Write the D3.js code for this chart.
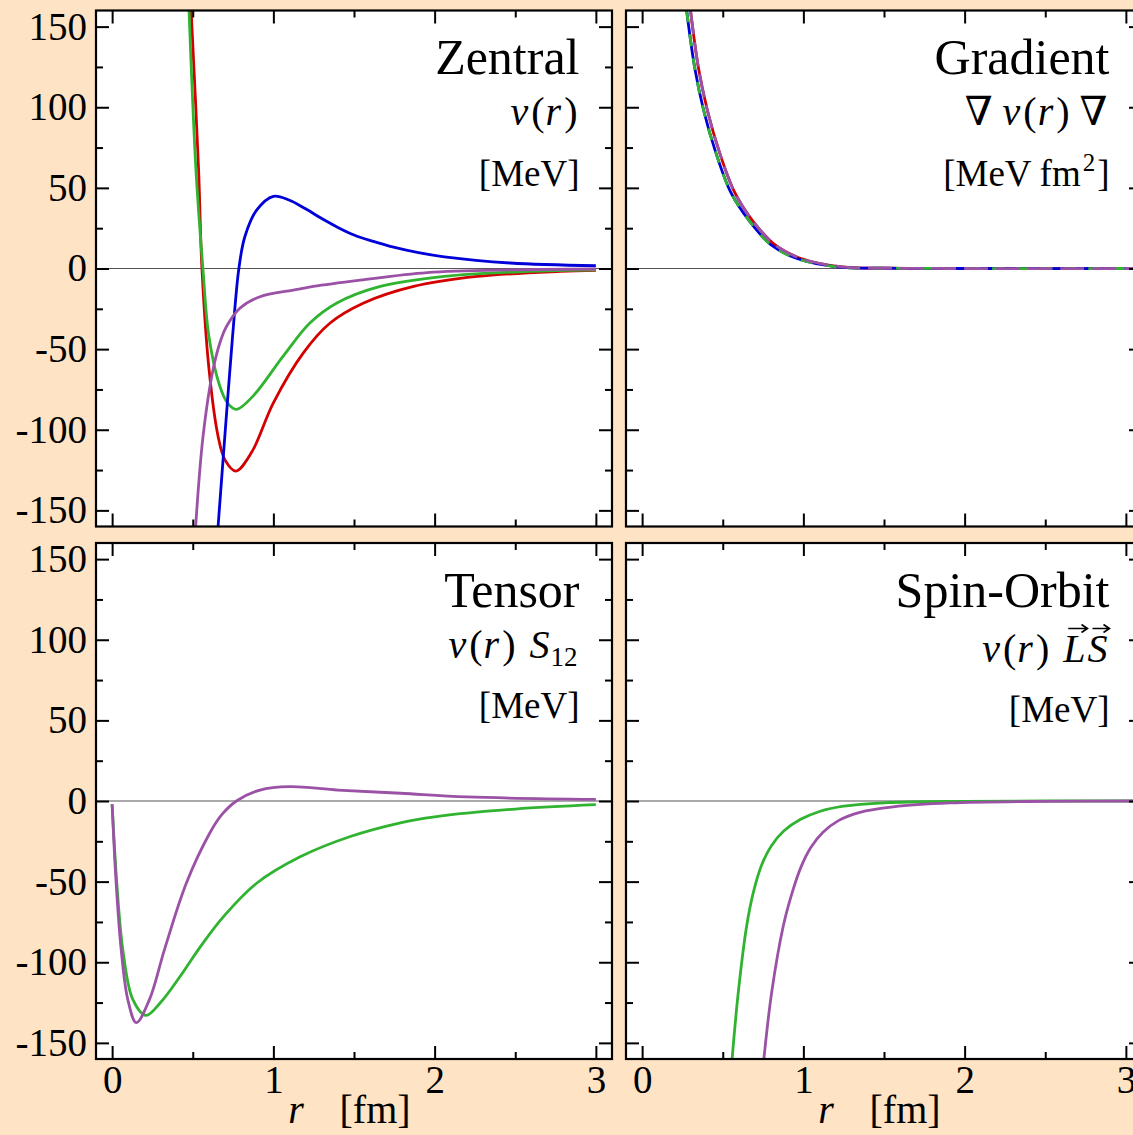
<!DOCTYPE html>
<html><head><meta charset="utf-8">
<script src="https://cdn.jsdelivr.net/npm/d3@7"></script>
<style>
html,body{margin:0;padding:0;background:#fee3c5;}
svg{display:block;}
text{font-family:"Liberation Serif","DejaVu Serif",serif;fill:#000;}
</style></head><body>
<svg id="c" width="1133" height="1135"></svg>
<script>
// ---------- axes / ticks ----------
const xDomain = [-0.1, 3.1];
const yDomain = [-160, 160];
const xTicksMajor = [0, 1, 2, 3];
const xTicksMinor = [0.5, 1.5, 2.5];
const yTicksMajor = [-150, -100, -50, 0, 50, 100, 150];
const yTicksMinor = [-125, -75, -25, 25, 75, 125];

// ---------- data [r (fm), v] ----------
const zentralRed = [[0.49,160],[0.536,62],[0.557,0],[0.601,-62.6],[0.657,-104],[0.699,-118.5],[0.767,-125.6],[0.865,-114],[1.0,-83.3],[1.186,-52.3],[1.352,-33.8],[1.56,-21.4],[1.87,-11.1],[2.265,-4.9],[2.78,-1.8],[3.0,-1.2]];
const zentralGreen = [[0.477,160],[0.52,61],[0.563,0],[0.60,-42],[0.668,-73],[0.72,-84],[0.771,-87.4],[0.875,-79],[1.062,-54.2],[1.228,-33.7],[1.394,-21.4],[1.663,-11.1],[2.06,-4.9],[2.58,-1.8],[3.0,-0.8]];
const zentralBlue = [[0.657,-160],[0.699,-104],[0.747,-42],[0.786,0],[0.823,19.7],[0.896,36.2],[1.0,44.8],[1.1,42.3],[1.2,37],[1.3,31],[1.4,25.5],[1.5,20.8],[1.62,16.8],[1.745,13.2],[1.9,9.8],[2.06,7.2],[2.47,3.4],[3.0,1.7]];
const zentralPurple = [[0.518,-160],[0.564,-104],[0.626,-62.6],[0.675,-44],[0.709,-36],[0.792,-24.7],[0.917,-17.5],[1.124,-13.4],[1.248,-11.1],[1.539,-7.2],[1.954,-2.5],[2.5,-0.8],[3.0,-0.3]];

const gradientBlue = [[0.276,160],[0.327,124],[0.381,98.3],[0.455,72.5],[0.55,47.2],[0.666,29.3],[0.80,14.6],[0.96,6.2],[1.21,1],[1.5,0.2],[2.0,0],[3.1,0]];
const gradientGreen = [[0.276,160],[0.327,124],[0.381,98.3],[0.455,72.5],[0.55,47.2],[0.666,29.3],[0.80,14.6],[0.96,6.2],[1.21,1],[1.5,0.2],[2.0,0],[3.1,0]];
const gradientRed = [[0.30,160],[0.35,124],[0.405,98],[0.48,72],[0.575,47],[0.69,29],[0.825,14.6],[0.985,6.2],[1.24,1],[1.55,0.2],[2.0,0],[3.1,0]];
const gradientPurple = [[0.30,160],[0.35,124],[0.405,98],[0.48,72],[0.575,47],[0.69,29],[0.825,14.6],[0.985,6.2],[1.24,1],[1.55,0.2],[2.0,0],[3.1,0]];

const tensorGreen = [[0,-2],[0.029,-51],[0.066,-92],[0.128,-123],[0.21,-133],[0.30,-125],[0.42,-109],[0.55,-90],[0.688,-72],[0.896,-51],[1.166,-34.6],[1.477,-22],[1.788,-13.5],[2.0,-9.8],[2.5,-5],[3.0,-2.3]];
const tensorPurple = [[0,-2],[0.025,-51],[0.056,-92],[0.097,-123],[0.150,-137.5],[0.232,-123],[0.325,-92],[0.46,-51],[0.605,-20],[0.68,-8.5],[0.771,0],[0.917,6.8],[1.103,8.9],[1.4,6.8],[1.788,4.8],[2.2,2.5],[3.0,1]];

const spinOrbitGreen = [[0.558,-160],[0.596,-119],[0.648,-77.7],[0.689,-57],[0.74,-40],[0.80,-28],[0.88,-18.5],[0.98,-11.5],[1.1,-6.5],[1.25,-3.2],[1.5,-1.1],[2.0,-0.2],[3.1,0]];
const spinOrbitPurple = [[0.755,-160],[0.803,-119],[0.875,-77.7],[0.93,-57],[0.985,-41],[1.045,-29],[1.12,-19.5],[1.22,-12],[1.35,-7],[1.557,-3.6],[1.909,-1.2],[2.5,-0.2],[3.1,0]];

const colors = {blue:"#0000d8", red:"#d40000", green:"#30b330", purple:"#9b52a6"};

// ---------- layout ----------
const W = 516, H = 516;
const colX = [96, 626];
const rowY = [10.5, 543];

const panels = [
  {col:0,row:0,title:"Zentral", series:[
    {d:zentralRed,c:"red"},{d:zentralGreen,c:"green"},{d:zentralBlue,c:"blue"},{d:zentralPurple,c:"purple"}],
   math:[{t:"v",it:1},{t:"(",g:3},{t:"r",it:1,g:1},{t:")",g:3}],
   unit:[{t:"[MeV]"}]},
  {col:1,row:0,title:"Gradient", series:[
    {d:gradientRed,c:"red"},{d:gradientBlue,c:"blue"},{d:gradientGreen,c:"green",dash:"12,12"},{d:gradientPurple,c:"purple",dash:"24,8"}],
   math:[{t:"∇"},{t:"v",it:1,g:10},{t:"(",g:3},{t:"r",it:1,g:1},{t:")",g:3},{t:"∇",g:10}],
   unit:[{t:"[MeV"},{t:"fm",g:8},{t:"2",fs:25,dy:-15,g:2},{t:"]",g:2}]},
  {col:0,row:1,title:"Tensor", series:[
    {d:tensorGreen,c:"green"},{d:tensorPurple,c:"purple"}],
   math:[{t:"v",it:1},{t:"(",g:3},{t:"r",it:1,g:1},{t:")",g:3},{t:"S",it:1,g:14},{t:"12",fs:27,dy:8,g:1}],
   unit:[{t:"[MeV]"}]},
  {col:1,row:1,title:"Spin-Orbit", series:[
    {d:spinOrbitGreen,c:"green"},{d:spinOrbitPurple,c:"purple"}],
   math:[{t:"v",it:1},{t:"(",g:3},{t:"r",it:1,g:1},{t:")",g:3},{t:"L",it:1,g:14,arrow:1},{t:"S",it:1,g:2,arrow:1}],
   mathDy:4, unit:[{t:"[MeV]"}], unitDy:4}
];

const svg = d3.select("#c");
svg.append("rect").attr("width",1133).attr("height",1135).attr("fill","#fee3c5");

const x = d3.scaleLinear().domain(xDomain).range([0, W]);
const y = d3.scaleLinear().domain(yDomain).range([H, 0]);
const line = d3.line().x(d=>x(d[0])).y(d=>y(d[1])).curve(d3.curveCatmullRom.alpha(0.5));

function layoutLine(g, xRight, yBase, pieces, baseFs){
  let pos = 0; const els = [];
  pieces.forEach(p=>{
    pos += (p.g||0);
    const t = g.append("text").attr("y", yBase + (p.dy||0))
      .attr("font-size", p.fs||baseFs)
      .attr("font-style", p.it?"italic":"normal")
      .text(p.t);
    const w = t.node().getComputedTextLength();
    els.push({t, x:pos, w, p});
    pos += w;
  });
  const x0 = xRight - pos;
  els.forEach(e=>{
    e.t.attr("x", x0 + e.x);
    if(e.p.arrow){
      // vector accent drawn as a small arrow path above the letter
      const ax1 = x0 + e.x + 5, ax2 = x0 + e.x + e.w + 2, ay = yBase - 33;
      g.append("path")
        .attr("d",`M${ax1},${ay}H${ax2}M${ax2-6},${ay-4}L${ax2},${ay}L${ax2-6},${ay+4}`)
        .attr("fill","none").attr("stroke","#000").attr("stroke-width",1.6);
    }
  });
}

panels.forEach((P,i)=>{
  const g = svg.append("g").attr("transform",`translate(${colX[P.col]},${rowY[P.row]})`);
  g.append("rect").attr("width",W).attr("height",H).attr("fill","#fff");
  const cid = "clip"+i;
  g.append("clipPath").attr("id",cid).append("rect").attr("width",W).attr("height",H);
  // zero line
  g.append("line").attr("x1",0).attr("x2",W).attr("y1",y(0)).attr("y2",y(0))
    .attr("stroke","#555").attr("stroke-width",1.2);
  const cg = g.append("g").attr("clip-path",`url(#${cid})`);
  P.series.forEach(s=>{
    cg.append("path").attr("d",line(s.d)).attr("fill","none")
      .attr("stroke",colors[s.c]).attr("stroke-width",2.8)
      .attr("stroke-linejoin","round")
      .attr("stroke-dasharray",s.dash||null);
  });
  // axes
  const styleAx = a => { a.select(".domain").remove();
    a.selectAll("line").attr("stroke","#000").attr("stroke-width",2);
    a.attr("font-family",null).attr("font-size",39);
    a.selectAll("text").attr("fill","#000"); };
  const fmtY = P.col===0 ? (d=>String(d)) : (()=> "");
  const fmtX = P.row===1 ? (d=>String(d)) : (()=> "");
  g.append("g").call(d3.axisLeft(y).tickValues(yTicksMajor).tickSize(-13).tickPadding(9).tickFormat(fmtY)).call(styleAx);
  g.append("g").call(d3.axisLeft(y).tickValues(yTicksMinor).tickSize(-7).tickFormat("")).call(styleAx);
  g.append("g").attr("transform",`translate(${W},0)`).call(d3.axisRight(y).tickValues(yTicksMajor).tickSize(-13).tickFormat("")).call(styleAx);
  g.append("g").attr("transform",`translate(${W},0)`).call(d3.axisRight(y).tickValues(yTicksMinor).tickSize(-7).tickFormat("")).call(styleAx);
  g.append("g").attr("transform",`translate(0,${H})`).call(d3.axisBottom(x).tickValues(xTicksMajor).tickSize(-13).tickPadding(6).tickFormat(fmtX)).call(styleAx);
  g.append("g").attr("transform",`translate(0,${H})`).call(d3.axisBottom(x).tickValues(xTicksMinor).tickSize(-7).tickFormat("")).call(styleAx);
  g.append("g").call(d3.axisTop(x).tickValues(xTicksMajor).tickSize(-13).tickFormat("")).call(styleAx);
  g.append("g").call(d3.axisTop(x).tickValues(xTicksMinor).tickSize(-7).tickFormat("")).call(styleAx);
  // frame
  g.append("rect").attr("width",W).attr("height",H).attr("fill","none")
    .attr("stroke","#000").attr("stroke-width",2.2);
  // titles
  const xr = 483.5;
  g.append("text").attr("x",xr).attr("y",63.5).attr("text-anchor","end").attr("font-size",50).text(P.title);
  layoutLine(g, xr-2, 114.5 + (P.mathDy||0), P.math, 40);
  layoutLine(g, xr, 175 + (P.unitDy||0), P.unit, 37);
  // x axis title
  if(P.row===1){
    const ty = H + 64;
    g.append("text").attr("x",x(1.14)).attr("y",ty).attr("font-size",40).attr("font-style","italic").attr("text-anchor","middle").text("r");
    g.append("text").attr("x",x(1.41)).attr("y",ty).attr("font-size",40).text("[fm]");
  }
});
</script>
</body></html>
